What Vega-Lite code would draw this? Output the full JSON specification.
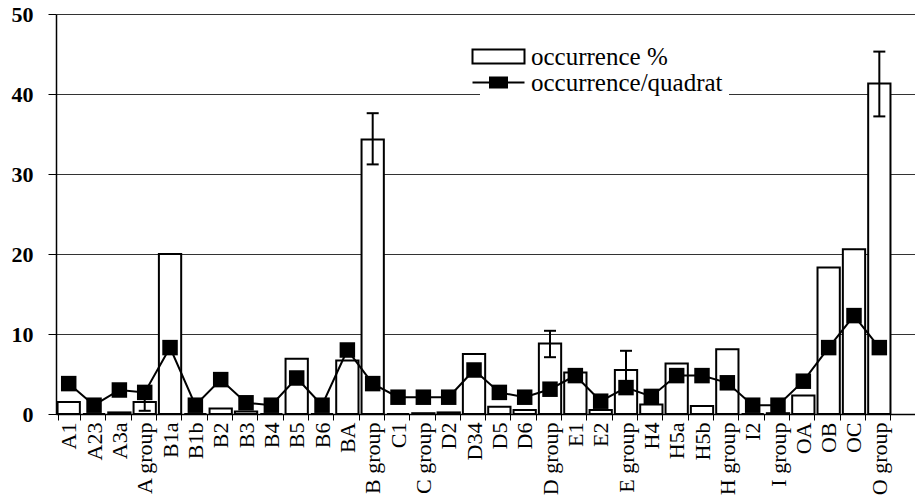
{
  "$schema": "https://vega.github.io/schema/vega-lite/v6.json",
  "width": 859,
  "height": 400,
  "autosize": {"type": "none"},
  "padding": {"left": 56, "top": 14, "right": 0, "bottom": 90},
  "background": "white",
  "config": {"view": {"stroke": null}, "font": "Liberation Serif"},
  "data": {"values": [
    {"cat": "A1", "pct": 1.5, "quad": 3.8},
    {"cat": "A23", "pct": 0, "quad": 1.1},
    {"cat": "A3a", "pct": 0.2, "quad": 3.0},
    {"cat": "A group", "pct": 1.5, "quad": 2.7, "lo": 0.4, "hi": 2.6},
    {"cat": "B1a", "pct": 20, "quad": 8.3},
    {"cat": "B1b", "pct": 0, "quad": 1.1},
    {"cat": "B2", "pct": 0.7, "quad": 4.3},
    {"cat": "B3", "pct": 0.3, "quad": 1.4},
    {"cat": "B4", "pct": 0, "quad": 1.1},
    {"cat": "B5", "pct": 6.9, "quad": 4.5},
    {"cat": "B6", "pct": 0, "quad": 1.1},
    {"cat": "BA", "pct": 6.7, "quad": 8.0},
    {"cat": "B group", "pct": 34.3, "quad": 3.8, "lo": 31.2, "hi": 37.6},
    {"cat": "C1", "pct": 0, "quad": 2.1},
    {"cat": "C group", "pct": 0.1, "quad": 2.1},
    {"cat": "D2", "pct": 0.2, "quad": 2.1},
    {"cat": "D34", "pct": 7.5, "quad": 5.5},
    {"cat": "D5", "pct": 0.9, "quad": 2.7},
    {"cat": "D6", "pct": 0.5, "quad": 2.1},
    {"cat": "D group", "pct": 8.8, "quad": 3.1, "lo": 7.1, "hi": 10.4},
    {"cat": "E1", "pct": 5.2, "quad": 4.8},
    {"cat": "E2", "pct": 0.5, "quad": 1.6},
    {"cat": "E group", "pct": 5.5, "quad": 3.3, "lo": 3.1, "hi": 7.9},
    {"cat": "H4", "pct": 1.2, "quad": 2.2},
    {"cat": "H5a", "pct": 6.3, "quad": 4.8},
    {"cat": "H5b", "pct": 1.0, "quad": 4.8},
    {"cat": "H group", "pct": 8.1, "quad": 3.9},
    {"cat": "I2", "pct": 0, "quad": 1.1},
    {"cat": "I group", "pct": 0.1, "quad": 1.1},
    {"cat": "OA", "pct": 2.3, "quad": 4.1},
    {"cat": "OB", "pct": 18.3, "quad": 8.3},
    {"cat": "OC", "pct": 20.6, "quad": 12.3},
    {"cat": "O group", "pct": 41.3, "quad": 8.3, "lo": 37.2, "hi": 45.3}
  ]},
  "encoding": {
    "x": {
      "field": "cat", "type": "nominal", "sort": null,
      "scale": {"paddingInner": 0.12, "paddingOuter": 0.515, "align": 0.06},
      "axis": {
        "title": null, "labelAngle": -90, "labelAlign": "right", "labelBaseline": "middle",
        "labelFont": "Liberation Serif", "labelFontSize": 22, "labelColor": "black",
        "tickBand": "extent", "tickSize": 6, "tickColor": "black", "tickWidth": 1,
        "domainColor": "black", "domainWidth": 1.5, "labelPadding": 2,
        "labelOverlap": false, "labelBound": false
      }
    }
  },
  "layer": [
    {
      "mark": {"type": "bar", "fill": "white", "strokeWidth": 2},
      "encoding": {
        "y": {
          "field": "pct", "type": "quantitative",
          "scale": {"domain": [0, 50], "nice": false},
          "axis": {
            "title": null, "values": [0, 10, 20, 30, 40, 50], "grid": true,
            "gridColor": "#333", "gridWidth": 1, "tickSize": 8, "tickColor": "black",
            "domainColor": "black", "domainWidth": 1.5,
            "labelFont": "Liberation Serif", "labelFontSize": 22, "labelFontWeight": "bold",
            "labelColor": "black", "labelPadding": 15
          }
        },
        "stroke": {
          "datum": "occurrence %", "type": "nominal",
          "scale": {"domain": ["occurrence %", "occurrence/quadrat"], "range": ["black", "black"]},
          "legend": {
            "orient": "none", "legendX": 424, "legendY": 24, "title": null, "padding": 6,
            "labelFont": "Liberation Serif", "labelFontSize": 25, "labelColor": "black", "labelLimit": 400,
            "symbolSize": 400, "labelOffset": 20, "rowPadding": -4, "fillColor": "white",
            "encode": {
              "symbols": {
                "update": {
                  "shape": {"signal": "datum.value === 'occurrence %' ? 'M-2.6,-0.7L2.6,-0.7L2.6,0.7L-2.6,0.7Z' : 'M-2.6,0L2.6,0M-0.85,-0.5L0.85,-0.5L0.85,0.5L-0.85,0.5Z'"},
                  "strokeWidth": {"value": 2},
                  "fill": {"signal": "datum.value === 'occurrence %' ? 'white' : 'black'"},
                  "opacity": {"value": 1},
                  "fillOpacity": {"value": 1}
                }
              }
            }
          }
        }
      }
    },
    {
      "mark": {"type": "rule", "strokeWidth": 2, "color": "black"},
      "encoding": {
        "y": {"field": "lo", "type": "quantitative"},
        "y2": {"field": "hi"}
      }
    },
    {
      "mark": {"type": "tick", "thickness": 2, "size": 12, "color": "black", "opacity": 1},
      "encoding": {"y": {"field": "hi", "type": "quantitative"}}
    },
    {
      "mark": {"type": "tick", "thickness": 2, "size": 12, "color": "black", "opacity": 1},
      "encoding": {"y": {"field": "lo", "type": "quantitative"}}
    },
    {
      "mark": {"type": "line", "strokeWidth": 2},
      "encoding": {
        "y": {"field": "quad", "type": "quantitative"},
        "stroke": {
          "datum": "occurrence/quadrat", "type": "nominal",
          "legend": {
            "orient": "none", "legendX": 424, "legendY": 24, "title": null, "padding": 6,
            "labelFont": "Liberation Serif", "labelFontSize": 25, "labelColor": "black", "labelLimit": 400,
            "symbolSize": 400, "labelOffset": 20, "rowPadding": -4, "fillColor": "white",
            "encode": {
              "symbols": {
                "update": {
                  "shape": {"signal": "datum.value === 'occurrence %' ? 'M-2.6,-0.7L2.6,-0.7L2.6,0.7L-2.6,0.7Z' : 'M-2.6,0L2.6,0M-0.85,-0.5L0.85,-0.5L0.85,0.5L-0.85,0.5Z'"},
                  "strokeWidth": {"value": 2},
                  "fill": {"signal": "datum.value === 'occurrence %' ? 'white' : 'black'"},
                  "opacity": {"value": 1},
                  "fillOpacity": {"value": 1}
                }
              }
            }
          }
        }
      }
    },
    {
      "mark": {"type": "point", "shape": "square", "filled": true, "size": 240, "color": "black", "opacity": 1},
      "encoding": {"y": {"field": "quad", "type": "quantitative"}}
    }
  ]
}
